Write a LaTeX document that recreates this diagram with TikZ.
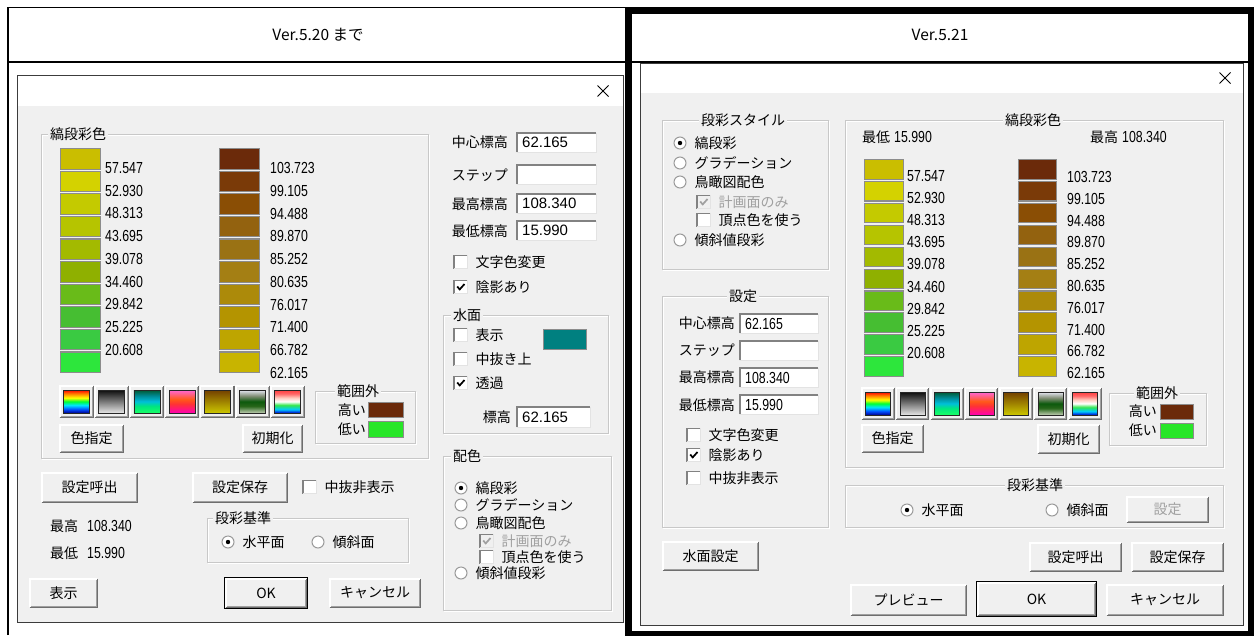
\documentclass[tikz,border=0pt]{standalone}
\usepackage{fontspec}
\setmainfont{Noto Sans CJK JP}
\newfontfamily\jpf{Noto Sans CJK JP}
\newfontfamily\numf[FakeStretch=0.77]{Liberation Sans}
\newfontfamily\numw{Liberation Sans}
\definecolor{dlgbg}{HTML}{F0F0F0}
\definecolor{grpline}{HTML}{C8C8C8}
\definecolor{btnout}{HTML}{6E6E6E}
\definecolor{btnin}{HTML}{A0A0A0}
\definecolor{edgedark}{HTML}{828282}
\definecolor{edgelight}{HTML}{E3E3E3}
\definecolor{swline}{HTML}{8C8C8C}
\definecolor{disgray}{HTML}{A0A0A0}
\definecolor{radline}{HTML}{9A9A9A}
\definecolor{dlgline}{HTML}{3C3C3C}
\definecolor{outhi}{RGB}{107,42,10}
\definecolor{outlo}{RGB}{40,230,40}
\definecolor{watercol}{RGB}{0,128,128}
\definecolor{sl1}{RGB}{202,190,0}
\definecolor{sl2}{RGB}{212,210,0}
\definecolor{sl3}{RGB}{196,202,0}
\definecolor{sl4}{RGB}{182,196,0}
\definecolor{sl5}{RGB}{163,186,0}
\definecolor{sl6}{RGB}{143,176,0}
\definecolor{sl7}{RGB}{105,187,25}
\definecolor{sl8}{RGB}{70,190,50}
\definecolor{sl9}{RGB}{58,202,66}
\definecolor{sl10}{RGB}{45,230,60}
\definecolor{sr1}{RGB}{107,42,10}
\definecolor{sr2}{RGB}{122,58,8}
\definecolor{sr3}{RGB}{138,78,5}
\definecolor{sr4}{RGB}{147,98,15}
\definecolor{sr5}{RGB}{154,114,20}
\definecolor{sr6}{RGB}{164,127,20}
\definecolor{sr7}{RGB}{172,138,10}
\definecolor{sr8}{RGB}{180,148,0}
\definecolor{sr9}{RGB}{190,165,0}
\definecolor{sr10}{RGB}{200,180,0}
\pgfdeclareverticalshading{gsA}{100bp}{rgb(0bp)=(0,0,0.55); rgb(25bp)=(0,0,0.55); rgb(33bp)=(0,0.3,1); rgb(42bp)=(0,0.9,1); rgb(50bp)=(0,1,0.2); rgb(58bp)=(1,1,0); rgb(67bp)=(1,0.5,0); rgb(75bp)=(1,0,0); rgb(100bp)=(1,0,0)}
\pgfdeclareverticalshading{gsB}{100bp}{rgb(0bp)=(0.9,0.9,0.9); rgb(25bp)=(0.9,0.9,0.9); rgb(75bp)=(0.05,0.05,0.05); rgb(100bp)=(0.05,0.05,0.05)}
\pgfdeclareverticalshading{gsC}{100bp}{rgb(0bp)=(0.1,1,0.4); rgb(25bp)=(0.1,1,0.4); rgb(40bp)=(0,0.9,0.5); rgb(50bp)=(0,0.75,0.85); rgb(62bp)=(0,0.55,0.6); rgb(75bp)=(0,0.35,0.2); rgb(100bp)=(0,0.35,0.2)}
\pgfdeclareverticalshading{gsD}{100bp}{rgb(0bp)=(1,0,0.7); rgb(25bp)=(1,0,0.7); rgb(45bp)=(1,0.2,0.2); rgb(55bp)=(1,0.35,0.1); rgb(75bp)=(1,0.4,0.85); rgb(100bp)=(1,0.4,0.85)}
\pgfdeclareverticalshading{gsE}{100bp}{rgb(0bp)=(0.8,0.78,0); rgb(25bp)=(0.8,0.78,0); rgb(75bp)=(0.45,0.25,0); rgb(100bp)=(0.45,0.25,0)}
\pgfdeclareverticalshading{gsF}{100bp}{rgb(0bp)=(0.75,0.8,0.7); rgb(25bp)=(0.75,0.8,0.7); rgb(40bp)=(0.15,0.4,0.1); rgb(50bp)=(0.05,0.35,0.05); rgb(62bp)=(0.5,0.55,0.45); rgb(75bp)=(0.9,0.9,0.95); rgb(100bp)=(0.9,0.9,0.95)}
\pgfdeclareverticalshading{gsG}{100bp}{rgb(0bp)=(0,0,0.8); rgb(25bp)=(0,0,0.8); rgb(33bp)=(0,0.8,1); rgb(42bp)=(0.2,0.9,0.3); rgb(50bp)=(1,1,1); rgb(58bp)=(1,0.8,0.75); rgb(67bp)=(1,0.4,0.4); rgb(75bp)=(1,0.25,0.25); rgb(100bp)=(1,0.25,0.25)}
\tikzset{
 jp/.style={font=\jpf\fontsize{14}{16}\selectfont, inner sep=0pt},
 lbl/.style={jp, anchor=west},
 lble/.style={jp, anchor=east},
 numl/.style={font=\numf\fontsize{16}{17}\selectfont, inner sep=0pt, anchor=west},
 numw/.style={font=\numw\fontsize{15}{16}\selectfont, inner sep=0pt, anchor=west},
 hdr/.style={font=\jpf\fontsize{15.5}{18}\selectfont, inner sep=0pt},
 btnn/.style={jp, fill=dlgbg, inner sep=0pt},
 sw/.style={draw=swline, line width=1.1pt, inner sep=0pt, anchor=north west},
}
\newcommand\wbtn[6]{%
 \node[btnn, minimum width={#4-#2}, minimum height={#5-#3}] (#1) at ({(#2+#4)/2},{(#3+#5)/2}) {#6};
 \draw[white, line width=1.5pt] (#1.south west) -- (#1.north west) -- (#1.north east);
 \draw[btnin, line width=1pt] ([shift={(1pt,1pt)}]#1.south west) -- ([shift={(-1pt,1pt)}]#1.south east) -- ([shift={(-1pt,-1pt)}]#1.north east);
 \draw[btnout, line width=1.2pt] (#1.south west) -- (#1.south east) -- (#1.north east);
}
\newcommand\dflt[1]{\draw[black, line width=1pt] ([shift={(-1pt,-1pt)}]#1.south west) rectangle ([shift={(1pt,1pt)}]#1.north east);}
\newcommand\gbn[6]{%
 \wbtn{#1}{#2}{#3}{#4}{#5}{}
 \shade[shading=#6, draw=black!85, line width=0.8pt] (#2+3.5,#3+4) rectangle (#4-3.5,#5-4);
}
\newcommand\ebox[7]{%
 \node[fill=white, inner sep=0pt, anchor=north west, minimum width={#4-#2}, minimum height={#5-#3}] (#1) at (#2,#3) {};
 \draw[edgedark, line width=1.2pt] (#1.south west) -- (#1.north west) -- (#1.north east);
 \draw[edgelight, line width=1pt] (#1.south west) -- (#1.south east) -- (#1.north east);
 \node[#6] (#1t) at ([xshift=5pt]#1.west) {#7};
}
\newcommand\cbx[5]{%
 \ifnum#4=2 \def\cbfill{dlgbg}\def\cbtext{disgray}\def\cbmark{disgray}\else\def\cbfill{white}\def\cbtext{black}\def\cbmark{black}\fi
 \node[fill=\cbfill, inner sep=0pt, minimum size=13, anchor=west] (#1) at (#2,#3) {};
 \draw[edgedark, line width=1.2pt] (#1.south west) -- (#1.north west) -- (#1.north east);
 \draw[edgelight, line width=1pt] (#1.south west) -- (#1.south east) -- (#1.north east);
 \ifnum#4>0 \draw[draw=\cbmark, line width=1.7pt] ([shift={(-3.5pt,0.5pt)}]#1.center) -- ([shift={(-1pt,-2.4pt)}]#1.center) -- ([shift={(3.8pt,3pt)}]#1.center);\fi
 \node[lbl, text=\cbtext] (#1t) at ([xshift=8pt]#1.east) {#5};
}
\newcommand\rdo[5]{%
 \node[circle, fill=white, draw=radline, line width=1pt, minimum size=12, inner sep=0pt] (#1) at (#2,#3) {};
 \ifnum#4=1 \fill[black] (#1.center) circle (2.2pt);\fi
 \node[lbl] (#1t) at ([xshift=8pt]#1.east) {#5};
}
\newcommand\gbx[8]{%
 \draw[white, line width=1pt] (#2+1,#3+1) rectangle (#4+1,#5+1);
 \draw[grpline, line width=1pt] (#2,#3) rectangle (#4,#5);
 \node[jp, fill=dlgbg, inner xsep=2pt, inner ysep=0pt, anchor=#8] (#1) at (#7,#3) {#6};
}
\begin{document}
\begin{tikzpicture}[x=1pt,y=-1pt]
\useasboundingbox (0,0) rectangle (1255,635);
\fill[white] (0,0) rectangle (1255,635);
% ---------- table ----------
\draw[black, line width=1.5pt] (8,635) -- (8,7.5) -- (628,7.5);
\draw[black, line width=1.3pt] (8,62) -- (628,62);
\draw[black, line width=1.2pt] (632,62) -- (1248,62);
\node[hdr] (h1) at (318,35) {Ver.5.20 まで};
\node[hdr] (h2) at (940,35) {Ver.5.21};
% ---------- dialog 1 ----------
\fill[dlgbg] (17,75) rectangle (623,622);
\fill[white] (17,75) rectangle (623,106);
\draw[dlgline, line width=1pt] (17,75) rectangle (623,622);
\draw[black, line width=1pt] (597.5,85.5) -- (608.5,96.5) (597.5,96.5) -- (608.5,85.5);
\gbx{gA}{41}{134}{428}{458}{縞段彩色}{48}{west}
\foreach \c [count=\i from 0] in {sl1,sl2,sl3,sl4,sl5,sl6,sl7,sl8,sl9,sl10}
  \node[sw, fill=\c, minimum width=40, minimum height=20.5] (sa\i) at (60,{148+22.6*\i}) {};
\foreach \c [count=\i from 0] in {sr1,sr2,sr3,sr4,sr5,sr6,sr7,sr8,sr9,sr10}
  \node[sw, fill=\c, minimum width=40, minimum height=20.5] (sb\i) at (219,{148+22.6*\i}) {};
\foreach \t [count=\i from 0] in {57.547,52.930,48.313,43.695,39.078,34.460,29.842,25.225,20.608}
  \node[numl] (la\i) at (105,{168+22.7*\i}) {\t};
\foreach \t [count=\i from 0] in {103.723,99.105,94.488,89.870,85.252,80.635,76.017,71.400,66.782,62.165}
  \node[numl] (lb\i) at (270,{168+22.75*\i}) {\t};
\foreach \sh [count=\i from 0] in {gsA,gsB,gsC,gsD,gsE,gsF,gsG}{
  \pgfmathsetmacro\gx{60+35.2*\i}
  \gbn{ga\i}{\gx}{386}{\gx+33}{417}{\sh}
}
\wbtn{bA1}{60}{425}{123}{452}{色指定}
\wbtn{bA2}{243}{425}{302}{452}{初期化}
\gbx{gA2}{315}{391}{415}{443}{範囲外}{358}{center}
\node[lble] (hiA) at (366,410) {高い};
\node[sw, fill=outhi, minimum width=35, minimum height=15] (hiAs) at (368,402) {};
\node[lble] (loA) at (366,429) {低い};
\node[sw, fill=outlo, minimum width=35, minimum height=16] (loAs) at (368,421) {};
\node[lble] (c1) at (508,142) {中心標高};
\ebox{e1}{517}{133}{596}{152}{numw}{62.165}
\node[lble] (c2) at (508,175) {ステップ};
\ebox{e2}{517}{165}{596}{184}{numw}{}
\node[lble] (c3) at (508,204) {最高標高};
\ebox{e3}{517}{194}{596}{213}{numw}{108.340}
\node[lble] (c4) at (508,231) {最低標高};
\ebox{e4}{517}{221}{596}{240}{numw}{15.990}
\cbx{k1}{454}{262}{0}{文字色変更}
\cbx{k2}{454}{287}{1}{陰影あり}
\gbx{gA3}{443}{315}{608}{433}{水面}{451}{west}
\cbx{k3}{454}{335}{0}{表示}
\node[sw, fill=watercol, minimum width=43, minimum height=20] (wc) at (543,329) {};
\cbx{k4}{454}{359}{0}{中抜き上}
\cbx{k5}{454}{383}{1}{透過}
\node[lble] (c5) at (511,417) {標高};
\ebox{e5}{517}{407}{590}{427}{numw}{62.165}
\gbx{gA4}{443}{456}{611}{610}{配色}{451}{west}
\rdo{r1}{461}{488}{1}{縞段彩}
\rdo{r2}{461}{505}{0}{グラデーション}
\rdo{r3}{461}{523}{0}{鳥瞰図配色}
\cbx{k6}{480}{541}{2}{計画面のみ}
\cbx{k7}{480}{557}{0}{頂点色を使う}
\rdo{r4}{461}{573}{0}{傾斜値段彩}
\wbtn{bA3}{42}{473}{137}{502}{設定呼出}
\wbtn{bA4}{193}{473}{287}{502}{設定保存}
\cbx{k8}{303}{487}{0}{中抜非表示}
\node[lbl] (mxA) at (50,526) {最高\hspace{9pt}{\numf\fontsize{16}{17}\selectfont 108.340}};
\node[lbl] (mnA) at (50,553) {最低\hspace{9pt}{\numf\fontsize{16}{17}\selectfont 15.990}};
\gbx{gA5}{207}{518}{408}{562}{段彩基準}{213}{west}
\rdo{r5}{228}{542}{1}{水平面}
\rdo{r6}{318}{542}{0}{傾斜面}
\wbtn{bA5}{30}{579}{97}{607}{表示}
\wbtn{bA6}{226}{579}{306}{607}{OK}
\dflt{bA6}
\wbtn{bA7}{330}{579}{420}{607}{キャンセル}
% ---------- dialog 2 ----------
\fill[dlgbg] (640,63) rectangle (1243,625);
\fill[white] (640,63) rectangle (1243,93);
\draw[dlgline, line width=1pt] (640,63) rectangle (1243,625);
\draw[black, line width=1pt] (1219.5,72.5) -- (1230.5,83.5) (1219.5,83.5) -- (1230.5,72.5);
\gbx{gB1}{662}{120}{828}{269}{段彩スタイル}{743}{center}
\rdo{r7}{680}{143}{1}{縞段彩}
\rdo{r8}{680}{163}{0}{グラデーション}
\rdo{r9}{680}{182}{0}{鳥瞰図配色}
\cbx{k9}{697}{202}{2}{計画面のみ}
\cbx{k10}{697}{220}{0}{頂点色を使う}
\rdo{r10}{680}{240}{0}{傾斜値段彩}
\gbx{gB2}{662}{296}{828}{527}{設定}{743}{center}
\node[lble] (d1) at (735,323) {中心標高};
\ebox{f1}{740}{314}{818}{333}{numl}{62.165}
\node[lble] (d2) at (735,350) {ステップ};
\ebox{f2}{740}{341}{818}{360}{numl}{}
\node[lble] (d3) at (735,377) {最高標高};
\ebox{f3}{740}{368}{818}{387}{numl}{108.340}
\node[lble] (d4) at (735,405) {最低標高};
\ebox{f4}{740}{395}{818}{414}{numl}{15.990}
\cbx{k11}{687}{435}{0}{文字色変更}
\cbx{k12}{687}{455}{1}{陰影あり}
\cbx{k13}{687}{478}{0}{中抜非表示}
\wbtn{bB1}{663}{542}{758}{570}{水面設定}
\gbx{gB3}{845}{120}{1223}{467}{縞段彩色}{1033}{center}
\node[lbl] (mnB) at (862,137) {最低\hspace{4pt}{\numf\fontsize{16}{17}\selectfont 15.990}};
\node[lbl] (mxB) at (1090,137) {最高\hspace{4pt}{\numf\fontsize{16}{17}\selectfont 108.340}};
\foreach \c [count=\i from 0] in {sl1,sl2,sl3,sl4,sl5,sl6,sl7,sl8,sl9,sl10}
  \node[sw, fill=\c, minimum width=39, minimum height=19.5] (sc\i) at (864,{159+21.9*\i}) {};
\foreach \c [count=\i from 0] in {sr1,sr2,sr3,sr4,sr5,sr6,sr7,sr8,sr9,sr10}
  \node[sw, fill=\c, minimum width=38, minimum height=19.5] (sd\i) at (1018,{159+21.9*\i}) {};
\foreach \t [count=\i from 0] in {57.547,52.930,48.313,43.695,39.078,34.460,29.842,25.225,20.608}
  \node[numl] (lc\i) at (907,{176+22.1*\i}) {\t};
\foreach \t [count=\i from 0] in {103.723,99.105,94.488,89.870,85.252,80.635,76.017,71.400,66.782,62.165}
  \node[numl] (ld\i) at (1067,{177+21.8*\i}) {\t};
\foreach \sh [count=\i from 0] in {gsA,gsB,gsC,gsD,gsE,gsF,gsG}{
  \pgfmathsetmacro\gx{862+34.5*\i}
  \gbn{gb\i}{\gx}{388}{\gx+32}{419}{\sh}
}
\wbtn{bB2}{862}{425}{923}{452}{色指定}
\wbtn{bB3}{1038}{425}{1099}{453}{初期化}
\gbx{gB4}{1109}{393}{1206}{445}{範囲外}{1157}{center}
\node[lble] (hiB) at (1157,411) {高い};
\node[sw, fill=outhi, minimum width=33, minimum height=15] (hiBs) at (1160,404) {};
\node[lble] (loB) at (1157,430) {低い};
\node[sw, fill=outlo, minimum width=33, minimum height=15] (loBs) at (1160,423) {};
\gbx{gB5}{845}{485}{1223}{527}{段彩基準}{1035}{center}
\rdo{r11}{907}{510}{1}{水平面}
\rdo{r12}{1052}{510}{0}{傾斜面}
\wbtn{bB4}{1127}{497}{1208}{522}{\textcolor{disgray}{設定}}
\wbtn{bB5}{1030}{543}{1121}{571}{設定呼出}
\wbtn{bB6}{1132}{543}{1223}{571}{設定保存}
\wbtn{bB7}{851}{585}{966}{615}{プレビュー}
\wbtn{bB8}{978}{583}{1095}{615}{OK}
\dflt{bB8}
\wbtn{bB9}{1107}{585}{1223}{615}{キャンセル}
% thick frame of right cell
\draw[black, line width=6.5pt] (628.5,10.3) rectangle (1251.2,634.5);
\end{tikzpicture}
\end{document}
